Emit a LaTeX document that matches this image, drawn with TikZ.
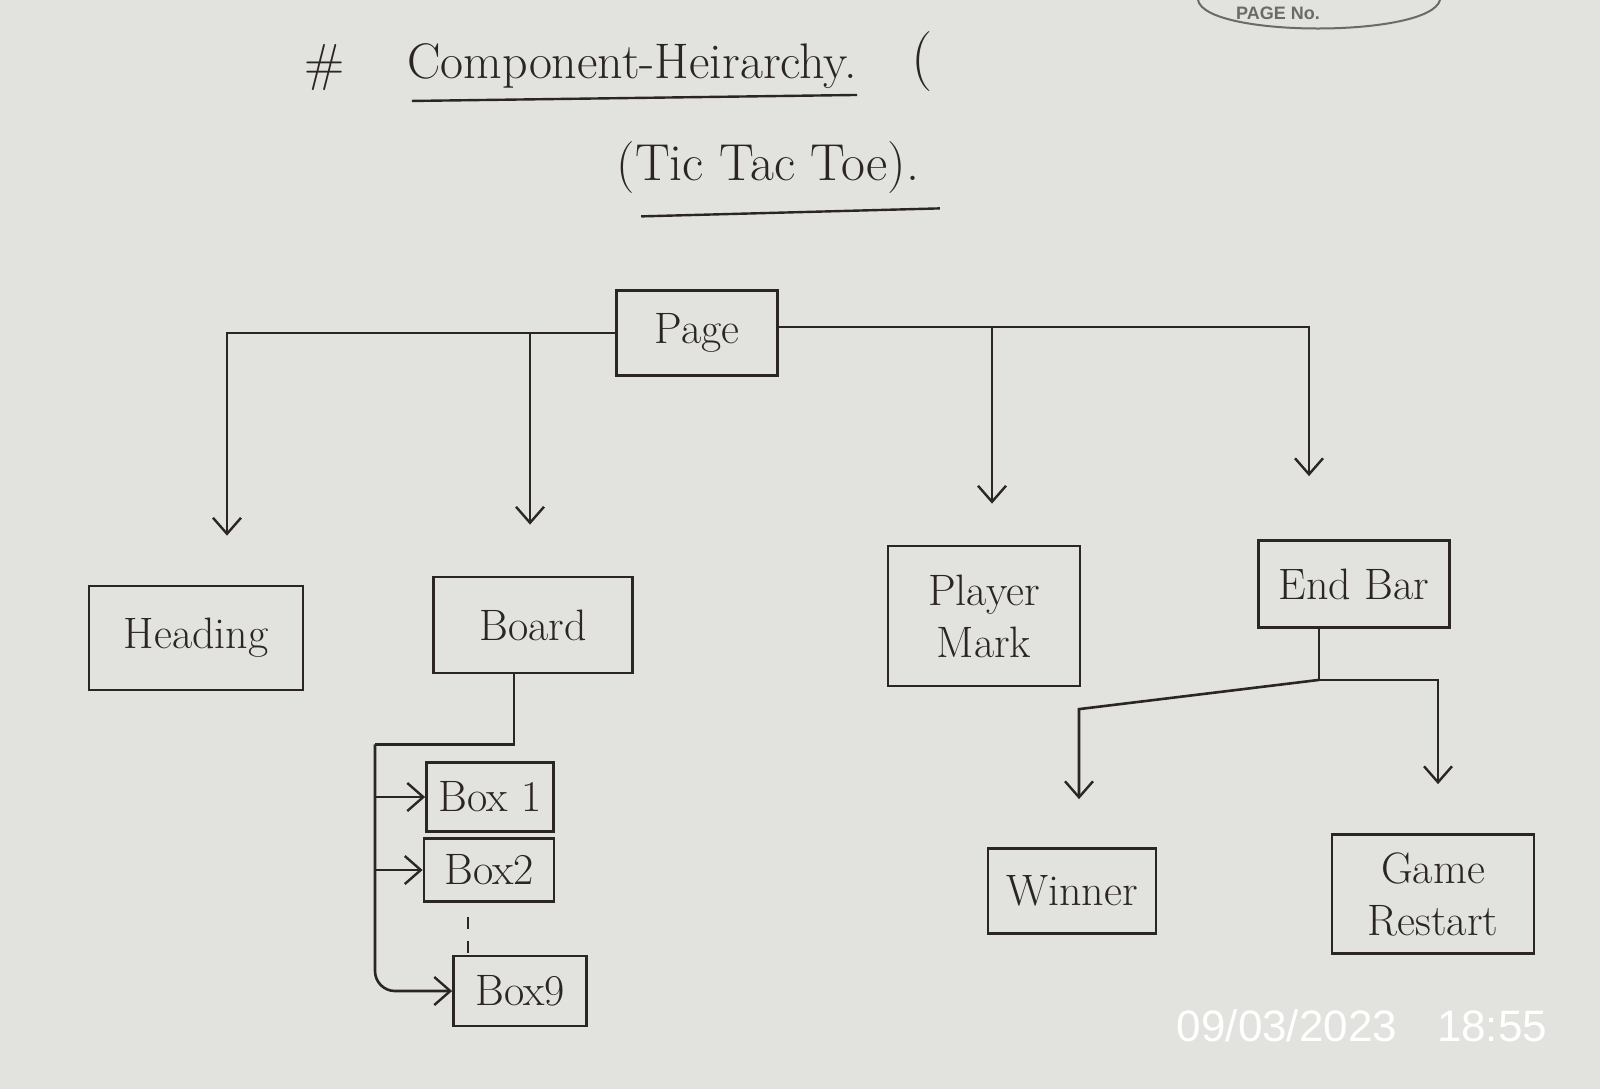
\documentclass[tikz,border=0pt]{standalone}
\usepackage{fontspec}
\setsansfont{Liberation Sans}
\usetikzlibrary{arrows.meta,calc}
\definecolor{ink}{HTML}{2B2622}
\definecolor{paper}{HTML}{E2E2DE}
\definecolor{printed}{HTML}{6A6A6A}
\begin{document}
\begin{tikzpicture}[x=0.5pt,y=-0.5pt,
  box/.style={draw=ink,line width=1.4pt,text=ink,inner sep=0pt,align=center,
    font=\fontsize{22}{26}\selectfont},
  conn/.style={draw=ink,line width=1.3pt},
  arr/.style={conn,-{Straight Barb[length=8pt,width=14pt,line width=1.2pt]}},
  handtext/.style={text=ink,inner sep=0pt}]
\fill[paper] (0,0) rectangle (1600,1089);
\useasboundingbox (0,0) rectangle (1600,1089);

% header printed mark
\draw[printed,line width=1pt] (1198,0) .. controls (1205,38) and (1430,38) .. (1440,0);
\node[text=printed,font=\sffamily\bfseries\fontsize{9}{10}\selectfont,inner sep=0pt] (pageno) at (1278,13) {PAGE No.};

% title
\node[handtext,font=\fontsize{26}{30}\selectfont] (hash) at (325,68) {\#};
\node[handtext,font=\fontsize{25}{30}\selectfont] (title) at (632,66) {Component-Heirarchy.};
\node[handtext,font=\fontsize{30}{34}\selectfont] (paren) at (922,62) {(};
\draw[conn,line width=1.2pt] ($(title.south west)+(5,12)$) -- ($(title.south east)+(0,6)$);
\node[handtext,font=\fontsize{26}{30}\selectfont] (sub) at (768,168) {(Tic Tac Toe).};
\draw[conn,line width=1.2pt] ($(sub.south west)+(25,22)$) -- ($(sub.south east)+(20,14)$);

% nodes
\node[box,minimum width=80.5pt,minimum height=42.5pt] (page) at (697,333) {Page};
\node[box,minimum width=107pt,minimum height=52pt] (heading) at (196,638) {Heading};
\node[box,minimum width=99.5pt,minimum height=48pt] (board) at (533,625) {Board};
\node[box,minimum width=96pt,minimum height=70pt] (pm) at (984,616) {Player\\Mark};
\node[box,minimum width=95.5pt,minimum height=43.5pt] (endbar) at (1354,584) {End Bar};
\node[box,minimum width=63.5pt,minimum height=34.5pt] (box1) at (490,797) {Box 1};
\node[box,minimum width=65pt,minimum height=31.5pt] (box2) at (489,870) {Box2};
\node[box,minimum width=66.5pt,minimum height=35pt] (box9) at (520,991) {Box9};
\node[box,minimum width=84pt,minimum height=42.5pt] (winner) at (1072,891) {Winner};
\node[box,minimum width=101pt,minimum height=59.5pt] (gr) at (1433,894) {Game\\Restart};

% Page -> Heading, Board
\draw[arr,shorten >=24.5pt] (page.west) -| ($(heading.north)+(31,0)$);
\draw[arr,shorten >=25.5pt] (page.west) -| ($(board.north)+(-3,0)$);
% Page -> Player Mark, End Bar
\draw[arr,shorten >=31.5pt] ($(page.east)+(0,-6)$) -| ($(endbar.north)+(-45,0)$);
\draw[arr,shorten >=20.5pt] ($(page.east)+(0,-6)$) -| ($(pm.north)+(8,0)$);

% Board -> boxes
\coordinate (bj) at ($(board.south)+(-19,70)$);
\draw[conn] ($(board.south)+(-19,0)$) -- (bj) -- (bj -| 375,0);
\draw[arr,rounded corners=10pt] (bj -| 375,0) |- (box9.west);
\draw[arr] (box1.west -| 375,0) -- (box1.west);
\draw[arr] (box2.west -| 375,0) -- (box2.west);
\draw[conn,line width=1pt,dash pattern=on 6pt off 6pt] ($(box2.south)+(-21,14)$) -- ($(box9.north)+(-52,-2)$);

% End Bar -> Winner, Game Restart
\coordinate (ej) at ($(endbar.south)+(-35,51)$);
\coordinate (wl) at ($(winner.north)+(7,-138)$);
\draw[conn] ($(endbar.south)+(-35,0)$) -- (ej);
\draw[arr,shorten >=24pt] (ej) -- (wl) -- ($(winner.north)+(7,0)$);
\draw[arr,shorten >=24.5pt] (ej) -| ($(gr.north)+(5,0)$);

% date stamp
\node[text=white,font=\sffamily\fontsize{22}{24}\selectfont,inner sep=0pt] (stamp) at (1362,1026) {09/03/2023\hspace{20pt}18:55};
\end{tikzpicture}
\end{document}
